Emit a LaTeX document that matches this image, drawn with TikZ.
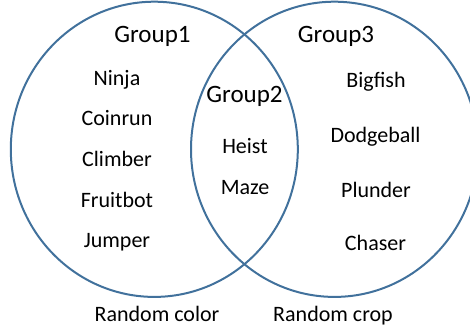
\documentclass[tikz,border=0pt]{standalone}
\usepackage{fontspec}
\setmainfont{Carlito}
\definecolor{ringblue}{RGB}{65,113,156}
\tikzset{
  ring/.style={draw=ringblue, line width=2bp},
  grouplabel/.style={anchor=base, inner sep=0pt, font=\fontsize{25bp}{28bp}\selectfont},
  game/.style={anchor=base, inner sep=0pt, font=\fontsize{22bp}{25bp}\selectfont}
}
\begin{document}
\begin{tikzpicture}[x=1bp,y=-1bp]
    \useasboundingbox (0,0) rectangle (470,328);
    \draw[ring] (154.3,149.3) ellipse [x radius=143.5, y radius=147.6];
    \draw[ring] (334.5,149.3) ellipse [x radius=143.5, y radius=147.6];
    % group titles
    \node[grouplabel] (group1) at (152.5,42) {Group1};
    \node[grouplabel] (group2) at (244.5,102) {Group2};
    \node[grouplabel] (group3) at (336,42) {Group3};
    % left set
    \node[game] (ninja) at (117,85) {Ninja};
    \node[game] (coinrun) at (117,125) {Coinrun};
    \node[game] (climber) at (117,166) {Climber};
    \node[game] (fruitbot) at (117,207) {Fruitbot};
    \node[game] (jumper) at (117,247) {Jumper};
    % overlap
    \node[game] (heist) at (245,153) {Heist};
    \node[game] (maze) at (245,194) {Maze};
    % right set
    \node[game] (bigfish) at (376,87) {Bigfish};
    \node[game] (dodgeball) at (375.5,142) {Dodgeball};
    \node[game] (plunder) at (376,197) {Plunder};
    \node[game] (chaser) at (375.5,250) {Chaser};
    % captions
    \node[game] (rcolor) at (157,321) {Random color};
    \node[game] (rcrop) at (333,321) {Random crop};
\end{tikzpicture}
\end{document}
